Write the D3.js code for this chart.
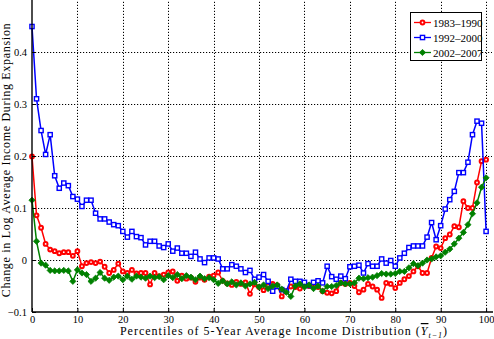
<!DOCTYPE html>
<html>
<head>
<meta charset="utf-8">
<script src="https://cdn.jsdelivr.net/npm/d3@7"></script>
<style>
  html, body { margin: 0; padding: 0; background: #fff; }
  svg { display: block; font-family: "Liberation Serif", "DejaVu Serif", serif; }
</style>
</head>
<body>
<svg id="chart" width="494" height="339"></svg>
<script>
// percentile of the 5-year average income distribution
const percentiles = d3.range(0, 101);

const growth8390 = [
  0.199, 0.086, 0.062, 0.031, 0.020, 0.017, 0.013, 0.015, 0.015, 0.008,
  0.017, -0.012, -0.006, -0.004, -0.006, -0.003, -0.013, -0.025, -0.019, -0.007,
  -0.022, -0.025, -0.019, -0.026, -0.025, -0.025, -0.047, -0.025, -0.031, -0.028,
  -0.024, -0.022, -0.040, -0.030, -0.036, -0.034, -0.042, -0.034, -0.038, -0.032,
  -0.030, -0.024, -0.040, -0.045, -0.048, -0.042, -0.046, -0.043, -0.065, -0.047,
  -0.052, -0.058, -0.050, -0.046, -0.049, -0.070, -0.060, -0.051, -0.052, -0.055,
  -0.048, -0.050, -0.046, -0.052, -0.060, -0.063, -0.064, -0.060, -0.044, -0.046,
  -0.044, -0.050, -0.062, -0.057, -0.046, -0.051, -0.057, -0.073, -0.044, -0.046,
  -0.054, -0.044, -0.037, -0.031, -0.022, -0.012, -0.025, -0.025, 0.004, 0.026,
  0.023, 0.042, 0.049, 0.065, 0.063, 0.113, 0.100, 0.100, 0.149, 0.190,
  0.193
];

const growth9200 = [
  0.449, 0.310, 0.249, 0.203, 0.241, 0.162, 0.138, 0.148, 0.143, 0.122,
  0.117, 0.103, 0.115, 0.115, 0.090, 0.079, 0.079, 0.073, 0.068, 0.066,
  0.055, 0.044, 0.055, 0.045, 0.043, 0.029, 0.036, 0.036, 0.027, 0.024,
  0.031, 0.017, 0.023, 0.013, 0.013, 0.007, 0.015, 0.002, -0.005, 0.004,
  0.004, 0.002, -0.017, -0.017, -0.009, -0.012, -0.017, -0.024, -0.020, -0.037,
  -0.033, -0.028, -0.041, -0.060, -0.051, -0.057, -0.060, -0.037, -0.041, -0.041,
  -0.043, -0.049, -0.043, -0.040, -0.044, -0.012, -0.032, -0.037, -0.031, -0.036,
  -0.013, -0.012, -0.010, -0.025, -0.007, -0.012, -0.012, 0.002, -0.006, -0.001,
  -0.012, 0.004, 0.013, 0.024, 0.027, 0.027, 0.027, 0.044, 0.072, 0.039,
  0.066, 0.098, 0.116, 0.132, 0.168, 0.168, 0.188, 0.241, 0.267, 0.263,
  0.055
];

const growth0207 = [
  0.115, 0.036, -0.006, -0.010, -0.020, -0.021, -0.021, -0.020, -0.021, -0.041,
  -0.019, -0.025, -0.028, -0.041, -0.035, -0.024, -0.035, -0.039, -0.033, -0.031,
  -0.038, -0.031, -0.037, -0.031, -0.033, -0.035, -0.031, -0.034, -0.032, -0.038,
  -0.030, -0.034, -0.028, -0.036, -0.030, -0.033, -0.038, -0.031, -0.036, -0.034,
  -0.038, -0.045, -0.040, -0.046, -0.042, -0.048, -0.044, -0.050, -0.046, -0.043,
  -0.052, -0.048, -0.055, -0.050, -0.048, -0.056, -0.062, -0.070, -0.050, -0.046,
  -0.052, -0.048, -0.055, -0.050, -0.060, -0.051, -0.051, -0.049, -0.044, -0.046,
  -0.046, -0.044, -0.035, -0.036, -0.034, -0.033, -0.030, -0.026, -0.027, -0.027,
  -0.026, -0.022, -0.022, -0.015, -0.007, -0.011, -0.006, 0.000, 0.002, 0.006,
  0.008, 0.015, 0.021, 0.031, 0.042, 0.053, 0.068, 0.089, 0.110, 0.140,
  0.158
];

const seriesNames = ["1983\u20131990", "1992\u20132000", "2002\u20132007"];
const xTicks = [0, 10, 20, 30, 40, 50, 60, 70, 80, 90, 100];
const yTicks = [-0.1, 0, 0.1, 0.2, 0.3, 0.4];

const width = 494, height = 339;
const margin = { left: 32, right: 2, top: 0, bottom: 27 };

const svg = d3.select("#chart");

const x = d3.scaleLinear()
  .domain([0, 101.3])
  .range([margin.left, width - margin.right]);

const y = d3.scaleLinear()
  .domain([-0.1, 0.5])
  .range([height - margin.bottom, margin.top]);

const series = [
  { name: seriesNames[0], values: growth8390, color: "#ff0000", marker: "circle" },
  { name: seriesNames[1], values: growth9200, color: "#0000ff", marker: "square" },
  { name: seriesNames[2], values: growth0207, color: "#008000", marker: "diamond" }
];

// dotted grid
const grid = svg.append("g").attr("stroke", "#000").attr("stroke-width", 1)
  .attr("stroke-dasharray", "1.2,1.8");
grid.selectAll(".gx")
  .data(xTicks.filter((d) => d > 0))
  .enter().append("line")
  .attr("x1", (d) => Math.round(x(d)) + 0.5)
  .attr("x2", (d) => Math.round(x(d)) + 0.5)
  .attr("y1", y(-0.1))
  .attr("y2", y(0.5));
grid.selectAll(".gy")
  .data(yTicks.filter((d) => d > -0.1))
  .enter().append("line")
  .attr("y1", (d) => Math.round(y(d)) + 0.5)
  .attr("y2", (d) => Math.round(y(d)) + 0.5)
  .attr("x1", x(0))
  .attr("x2", width - margin.right);

// markers
function drawMarker(g, type, color, cx, cy) {
  if (type === "circle") {
    g.append("circle").attr("cx", cx).attr("cy", cy).attr("r", 1.9)
      .attr("fill", "#fff").attr("stroke", color).attr("stroke-width", 2);
  } else if (type === "square") {
    g.append("rect").attr("x", cx - 2.1).attr("y", cy - 2.1)
      .attr("width", 4.2).attr("height", 4.2)
      .attr("fill", "#fff").attr("stroke", color).attr("stroke-width", 1.4);
  } else {
    const r = 3.1;
    g.append("path")
      .attr("d", `M${cx},${cy - r}L${cx + r},${cy}L${cx},${cy + r}L${cx - r},${cy}Z`)
      .attr("fill", color).attr("stroke", color).attr("stroke-width", 0.8);
  }
}

const line = d3.line()
  .x((d, i) => x(percentiles[i]))
  .y((d) => y(d));

series.forEach((s) => {
  const g = svg.append("g");
  g.append("path")
    .attr("d", line(s.values))
    .attr("fill", "none")
    .attr("stroke", s.color)
    .attr("stroke-width", 1.5);
  s.values.forEach((v, i) => drawMarker(g, s.marker, s.color, x(percentiles[i]), y(v)));
});

// axes
const xAxis = d3.axisBottom(x).tickValues(xTicks).tickSize(-4).tickPadding(4);
const yAxis = d3.axisLeft(y).tickValues(yTicks).tickSize(-4).tickPadding(5)
  .tickFormat((d) => (d === 0 ? "0" : d3.format(".1f")(d).replace("-", "\u2212")));

const gx = svg.append("g")
  .attr("transform", `translate(0,${y(-0.1)})`)
  .call(xAxis);
const gy = svg.append("g")
  .attr("transform", `translate(${x(0)},0)`)
  .call(yAxis);

[gx, gy].forEach((g) => {
  g.select(".domain").attr("stroke", "#000").attr("stroke-width", 1.4);
  g.selectAll(".tick line").attr("stroke", "#000");
  g.selectAll("text")
    .attr("font-family", "Liberation Serif, DejaVu Serif, serif")
    .attr("font-size", 10.5)
    .attr("fill", "#000");
});
gx.select(".domain").attr("d", `M${x(0)},0H${width - 1}`);
gy.select(".domain").attr("d", `M0,${y(-0.1)}V0`);

// axis titles
const xTitle = svg.append("text")
  .attr("x", 284)
  .attr("y", 335)
  .attr("text-anchor", "middle")
  .attr("font-size", 12)
  .attr("letter-spacing", 1.0);
xTitle.append("tspan").text("Percentiles of 5-Year Average Income Distribution (");
xTitle.append("tspan").attr("font-style", "italic")
  .attr("text-decoration", "overline").text("Y");
xTitle.append("tspan").attr("font-style", "italic").attr("font-size", 8)
  .attr("dy", 3).text("t\u22121");
xTitle.append("tspan").attr("dy", -3).text(")");

svg.append("text")
  .attr("transform", "translate(10,160) rotate(-90)")
  .attr("text-anchor", "middle")
  .attr("font-size", 12)
  .attr("letter-spacing", 0.7)
  .text("Change in Log Average Income During Expansion");

// legend
const legend = svg.append("g").attr("transform", "translate(410,12)");
legend.append("rect")
  .attr("x", 0.5).attr("y", 0.5)
  .attr("width", 71).attr("height", 48)
  .attr("fill", "#fff").attr("stroke", "#000").attr("stroke-width", 1);

series.forEach((s, i) => {
  const ly = 10.5 + i * 15;
  const row = legend.append("g");
  row.append("line")
    .attr("x1", 4).attr("x2", 21)
    .attr("y1", ly).attr("y2", ly)
    .attr("stroke", s.color).attr("stroke-width", 1.3);
  drawMarker(row, s.marker, s.color, 12.5, ly);
  row.append("text")
    .attr("x", 23).attr("y", ly + 4)
    .attr("font-size", 11)
    .text(s.name);
});
</script>
</body>
</html>
